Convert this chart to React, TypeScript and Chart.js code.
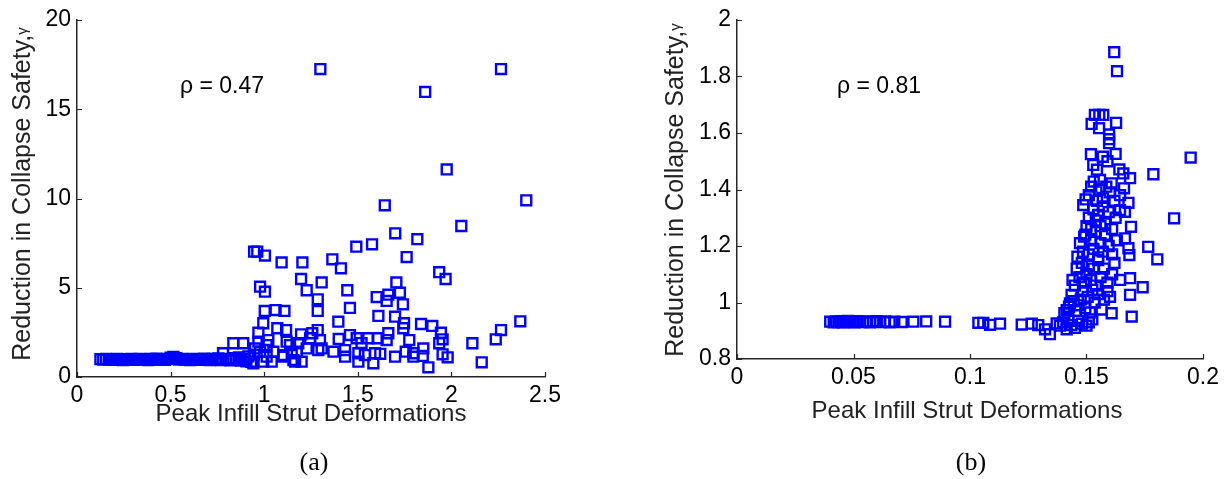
import { useEffect, useRef } from "react";
import { Chart, registerables } from "chart.js";

Chart.register(...registerables);

const SANS = '"Liberation Sans", Arial, Helvetica, sans-serif';
const SERIF = '"Liberation Serif", "Times New Roman", serif';
const MARKER = "#0000ff";
const AXIS = "#262626";

// ---- Panel (a): strut deformation vs. reduction in collapse safety ----
const DEFORM_A = [
  0.125, 0.14, 0.155, 0.17, 0.185, 0.2, 0.215, 0.23, 0.245, 0.26,
  0.275, 0.29, 0.305, 0.32, 0.335, 0.35, 0.365, 0.38, 0.395, 0.41,
  0.425, 0.44, 0.455, 0.47, 0.485, 0.5, 0.515, 0.53, 0.545, 0.56,
  0.575, 0.59, 0.605, 0.62, 0.635, 0.65, 0.665, 0.68, 0.695, 0.71,
  0.725, 0.74, 0.755, 0.77, 0.78, 0.795, 0.81, 0.82, 0.835, 0.835,
  0.85, 0.865, 0.875, 0.888, 0.895, 0.905, 0.915, 0.93, 0.942, 0.951,
  0.945,
  0.946, 0.963, 1.004, 1.093, 1.204, 1.364, 1.41, 1.492, 1.576, 1.644,
  1.7, 1.818, 1.761, 2.053, 1.975, 2.4, 1.3, 2.265, 1.86,
  1.935, 1.969, 1.197, 1.227, 1.307, 0.978, 1.004, 1.444, 1.706, 1.725,
  1.663, 1.601, 1.654, 1.741, 1.286, 1.286, 1.458, 1.003, 1.061, 1.108,
  1.61, 1.699, 1.396, 0.995, 1.747, 1.838, 1.898, 1.07, 1.117, 0.969,
  1.286, 1.257, 1.197, 1.743, 1.944, 1.663, 1.458, 1.398, 1.494, 1.556,
  1.606, 1.654, 1.775, 1.953, 1.935, 0.969, 1.022, 1.12, 1.182, 1.245,
  1.298, 1.227, 1.307, 1.37, 1.432, 1.432, 1.503, 1.503, 1.538, 1.583,
  1.592, 1.699, 1.756, 1.797, 1.847, 1.877, 1.953, 1.102, 1.156, 1.2,
  1.04, 0.978, 1.049, 1.147, 1.289, 1.797, 2.368, 2.265, 2.237, 2.112,
  2.162, 1.013, 1.013, 0.995, 1.102, 1.138, 1.174, 1.165, 1.52, 1.62,
  1.85, 1.98,
];
const GAMMA_A = [
  1.0, 0.98, 1.01, 0.97, 1.0, 0.96, 1.02, 0.98, 0.95, 1.0,
  0.97, 1.01, 0.96, 0.99, 1.02, 0.97, 1.0, 0.95, 1.01, 0.98,
  1.03, 0.97, 1.0, 0.96, 1.02, 1.08, 1.12, 1.05, 0.98, 1.01,
  0.97, 1.0, 0.95, 1.02, 0.98, 1.0, 0.96, 1.03, 0.99, 0.94,
  1.01, 0.97, 1.04, 0.95, 1.33, 0.98, 1.02, 0.93, 1.89, 1.05,
  0.97, 1.1, 0.92, 1.89, 1.02, 0.88, 1.15, 0.85, 0.77, 1.6,
  1.25,
  7.02, 7.02, 6.8, 6.42, 6.42, 6.59, 6.09, 7.3, 7.43, 9.62,
  8.05, 7.72, 6.72, 8.46, 11.63, 9.9, 17.25, 17.25, 15.97,
  5.87, 5.49, 5.49, 4.86, 5.3, 5.06, 4.78, 4.86, 5.3, 4.72,
  4.61, 4.48, 4.26, 4.07, 4.35, 3.7, 3.87, 3.7, 3.75, 3.7,
  3.42, 3.38, 3.1, 3.01, 3.01, 2.97, 2.86, 2.73, 2.63, 2.48,
  2.63, 2.45, 2.39, 2.73, 2.48, 2.45, 2.35, 2.13, 2.17, 2.17,
  2.17, 2.07, 2.07, 2.11, 1.89, 1.98, 2.07, 1.98, 1.89, 2.17,
  2.07, 1.6, 1.6, 1.42, 1.51, 1.14, 1.33, 0.86, 1.23, 0.77,
  1.33, 1.14, 1.42, 1.14, 1.18, 0.54, 1.27, 1.23, 0.95, 0.86,
  0.86, 1.42, 1.42, 1.33, 1.51, 1.33, 3.12, 2.63, 2.11, 1.89,
  0.82, 1.79, 1.14, 0.86, 1.14, 1.79, 1.42, 0.86, 1.9, 1.3,
  1.6, 1.1,
];
const X_TICKS_A = [0, 0.5, 1, 1.5, 2, 2.5];
const Y_TICKS_A = [0, 5, 10, 15, 20];
const RHO_A = "ρ = 0.47";

// ---- Panel (b) ----
const DEFORM_B = [
  0.04, 0.0415, 0.0425, 0.0435, 0.0445, 0.0455, 0.0465, 0.0475, 0.0485, 0.0495,
  0.0505, 0.0515, 0.0525, 0.054, 0.0555, 0.057, 0.0585, 0.06, 0.0615, 0.0635,
  0.0655, 0.0675, 0.0707, 0.0757, 0.0812, 0.0893,
  0.1036, 0.1057, 0.1086, 0.1129, 0.1222, 0.1265, 0.1293, 0.1322, 0.1343, 0.1372,
  0.1386, 0.14, 0.1415, 0.1422, 0.1435, 0.145, 0.1465, 0.148, 0.15, 0.151,
  0.1525,
  0.1405, 0.1415, 0.1425, 0.1429, 0.1436, 0.1445, 0.1455, 0.1465, 0.1475, 0.1485,
  0.1495, 0.1505, 0.1515, 0.1525, 0.1535, 0.155, 0.1565, 0.1575, 0.159, 0.1601,
  0.1608, 0.1687, 0.1694, 0.1741,
  0.144, 0.145, 0.1458, 0.147, 0.148, 0.149, 0.15, 0.151, 0.152, 0.153,
  0.154, 0.155, 0.156, 0.1575, 0.159, 0.161, 0.1644, 0.1687, 0.162,
  0.1461, 0.1472, 0.1485, 0.1495, 0.151, 0.152, 0.153, 0.154, 0.155, 0.156,
  0.157, 0.158, 0.1595, 0.161, 0.163, 0.1665, 0.1684, 0.168, 0.1765, 0.1804,
  0.149, 0.15, 0.151, 0.152, 0.153, 0.154, 0.155, 0.156, 0.157, 0.158,
  0.1595, 0.161, 0.1625, 0.1644, 0.1665, 0.1691, 0.1876, 0.1486,
  0.1496, 0.151, 0.152, 0.1531, 0.1545, 0.1555, 0.1558, 0.157, 0.1585, 0.16,
  0.1608, 0.162, 0.1661, 0.168, 0.1658, 0.1687, 0.1787, 0.1644,
  0.1529, 0.1519, 0.157, 0.1625, 0.1641, 0.1545, 0.159, 0.1947,
  0.1597, 0.1597, 0.1597, 0.1522, 0.1554, 0.1627, 0.1536, 0.1572, 0.1555, 0.1619,
  0.1631,
];
const GAMMA_B = [
  0.932, 0.93, 0.933, 0.931, 0.934, 0.93, 0.932, 0.935, 0.931, 0.933,
  0.93, 0.934, 0.932, 0.931, 0.933, 0.93, 0.932, 0.934, 0.931, 0.933,
  0.93, 0.932, 0.931, 0.932, 0.933, 0.932,
  0.928, 0.928, 0.921, 0.925, 0.922, 0.925, 0.92, 0.905, 0.888, 0.926,
  0.918, 0.93, 0.905, 0.944, 0.92, 0.91, 0.935, 0.925, 0.918, 0.93,
  0.94,
  0.962, 0.973, 0.985, 0.997, 1.027, 1.005, 0.97, 0.99, 1.01, 1.04,
  0.98, 1.02, 0.965, 1.045, 1.0, 1.03, 0.975, 1.01, 1.04, 1.02,
  0.962, 1.027, 0.95, 1.054,
  1.08, 1.06, 1.12, 1.09, 1.14, 1.07, 1.1, 1.13, 1.08, 1.12,
  1.06, 1.15, 1.09, 1.12, 1.07, 1.1, 1.08, 1.086, 1.14,
  1.162, 1.21, 1.18, 1.24, 1.17, 1.22, 1.19, 1.25, 1.16, 1.21,
  1.18, 1.24, 1.2, 1.17, 1.22, 1.227, 1.168, 1.192, 1.197, 1.153,
  1.233, 1.27, 1.3, 1.26, 1.33, 1.29, 1.31, 1.27, 1.34, 1.28,
  1.32, 1.26, 1.3, 1.327, 1.321, 1.268, 1.298, 1.345,
  1.365, 1.38, 1.41, 1.428, 1.36, 1.4, 1.434, 1.37, 1.41, 1.39,
  1.422, 1.36, 1.404, 1.353, 1.457, 1.44, 1.454, 1.38,
  1.487, 1.525, 1.516, 1.526, 1.471, 1.47, 1.5, 1.513,
  1.595, 1.578, 1.564, 1.632, 1.617, 1.636, 1.664, 1.664, 1.664, 1.886,
  1.819,
];
const X_TICKS_B = [0, 0.05, 0.1, 0.15, 0.2];
const Y_TICKS_B = [0.8, 1, 1.2, 1.4, 1.6, 1.8, 2];
const RHO_B = "ρ = 0.81";

const X_TITLE = "Peak Infill Strut Deformations";
const Y_TITLE = "Reduction in Collapse Safety,";
const Y_TITLE_SUB = "γ";

const HEIGHT = 479;

type Panel = {
  xs: number[];
  ys: number[];
  xTicks: number[];
  yTicks: number[];
  rho: string;
  rhoAt: [number, number];
  caption: string;
  canvasLeft: number;
  width: number;
  padding: { left: number; top: number; right: number; bottom: number };
  yAxisWidth: number;
  xAxisHeight: number;
  xTitleX: number;
  xTitleBase: number;
  yTitleBase: number;
  yTitleMid: number;
  captionX: number;
};

const PANELS: Panel[] = [
  {
    xs: DEFORM_A,
    ys: GAMMA_A,
    xTicks: X_TICKS_A,
    yTicks: Y_TICKS_A,
    rho: RHO_A,
    rhoAt: [0.55, 15.9],
    caption: "(a)",
    canvasLeft: 0,
    width: 613,
    padding: { left: 0, top: 20, right: 68, bottom: 62 },
    yAxisWidth: 77,
    xAxisHeight: 40,
    xTitleX: 311,
    xTitleBase: 421,
    yTitleBase: 30,
    yTitleMid: 194,
    captionX: 314,
  },
  {
    xs: DEFORM_B,
    ys: GAMMA_B,
    xTicks: X_TICKS_B,
    yTicks: Y_TICKS_B,
    rho: RHO_B,
    rhoAt: [0.0429, 1.742],
    caption: "(b)",
    canvasLeft: 613,
    width: 614,
    padding: { left: 0, top: 20, right: 24, bottom: 80 },
    yAxisWidth: 124,
    xAxisHeight: 40,
    xTitleX: 354,
    xTitleBase: 418,
    yTitleBase: 70,
    yTitleMid: 190,
    captionX: 358,
  },
];

const fmt = (v: number | string) => String(+Number(v).toFixed(3));

// Inward tick marks, the correlation note, axis titles and the panel caption.
const decorations = {
  id: "decorations",
  afterDraw(chart: any, _args: any, opts: any) {
    const p: Panel = opts.panel;
    const { ctx, chartArea: a } = chart;
    const sx = chart.scales.x;
    const sy = chart.scales.y;
    ctx.save();

    ctx.strokeStyle = AXIS;
    ctx.lineWidth = 1.2;
    ctx.beginPath();
    for (const t of sx.ticks) {
      const px = Math.round(sx.getPixelForValue(t.value)) + 0.5;
      ctx.moveTo(px, a.bottom);
      ctx.lineTo(px, a.bottom - 5);
    }
    for (const t of sy.ticks) {
      const py = Math.round(sy.getPixelForValue(t.value)) + 0.5;
      ctx.moveTo(a.left, py);
      ctx.lineTo(a.left + 5, py);
    }
    ctx.stroke();

    ctx.fillStyle = "#000";
    ctx.textBaseline = "alphabetic";

    ctx.font = `23px ${SANS}`;
    ctx.textAlign = "left";
    ctx.fillText(p.rho, sx.getPixelForValue(p.rhoAt[0]), sy.getPixelForValue(p.rhoAt[1]));

    ctx.fillStyle = "#222";
    ctx.font = `24px ${SANS}`;
    ctx.textAlign = "center";
    ctx.fillText(X_TITLE, p.xTitleX, p.xTitleBase);

    // rotated y title with a small raised gamma
    ctx.save();
    ctx.translate(p.yTitleBase, p.yTitleMid);
    ctx.rotate(-Math.PI / 2);
    ctx.textAlign = "left";
    ctx.font = `25px ${SANS}`;
    const w1 = ctx.measureText(Y_TITLE).width;
    ctx.font = `15px ${SANS}`;
    const w2 = ctx.measureText(Y_TITLE_SUB).width;
    const start = -(w1 + w2) / 2;
    ctx.font = `25px ${SANS}`;
    ctx.fillText(Y_TITLE, start, 0);
    ctx.font = `15px ${SANS}`;
    ctx.fillText(Y_TITLE_SUB, start + w1, -3);
    ctx.restore();

    ctx.fillStyle = "#000";
    ctx.font = `26px ${SERIF}`;
    ctx.textAlign = "center";
    ctx.fillText(p.caption, p.captionX, 470);

    ctx.restore();
  },
};

function makeConfig(p: Panel): any {
  const tickFont = { family: SANS, size: 23 };
  return {
    type: "scatter",
    data: {
      datasets: [
        {
          data: p.xs.map((x, i) => ({ x, y: p.ys[i] })),
          pointStyle: "rect",
          pointRadius: 7,
          pointBorderWidth: 2.4,
          pointBorderColor: MARKER,
          pointBackgroundColor: "rgba(0,0,0,0)",
          showLine: false,
          clip: false,
        },
      ],
    },
    options: {
      responsive: false,
      animation: false,
      devicePixelRatio: 1,
      events: [],
      layout: { padding: p.padding },
      plugins: {
        legend: { display: false },
        tooltip: { enabled: false },
        decorations: { panel: p },
      },
      scales: {
        x: {
          type: "linear",
          min: p.xTicks[0],
          max: p.xTicks[p.xTicks.length - 1],
          grid: { display: false, drawTicks: false },
          border: { display: true, color: AXIS, width: 1.5 },
          ticks: {
            font: tickFont,
            color: "#000",
            padding: 5,
            maxRotation: 0,
            autoSkip: false,
            callback: fmt,
          },
          afterBuildTicks: (s: any) => {
            s.ticks = p.xTicks.map((value) => ({ value }));
          },
          afterFit: (s: any) => {
            s.height = p.xAxisHeight;
            s.paddingLeft = 0;
            s.paddingRight = 0;
          },
        },
        y: {
          type: "linear",
          min: p.yTicks[0],
          max: p.yTicks[p.yTicks.length - 1],
          grid: { display: false, drawTicks: false },
          border: { display: true, color: AXIS, width: 1.5 },
          ticks: {
            font: tickFont,
            color: "#000",
            padding: 6,
            autoSkip: false,
            callback: fmt,
          },
          afterBuildTicks: (s: any) => {
            s.ticks = p.yTicks.map((value) => ({ value }));
          },
          afterFit: (s: any) => {
            s.width = p.yAxisWidth;
            s.paddingTop = 0;
            s.paddingBottom = 0;
          },
        },
      },
    },
    plugins: [decorations],
  };
}

function ScatterPanel({ panel }: { panel: Panel }) {
  const ref = useRef<HTMLCanvasElement | null>(null);
  useEffect(() => {
    if (!ref.current) return;
    const chart = new Chart(ref.current, makeConfig(panel));
    return () => chart.destroy();
  }, [panel]);
  return (
    <canvas
      ref={ref}
      width={panel.width}
      height={HEIGHT}
      style={{
        position: "absolute",
        left: panel.canvasLeft,
        top: 0,
        width: panel.width,
        height: HEIGHT,
        display: "block",
      }}
    />
  );
}

export default function App() {
  return (
    <div
      style={{
        position: "absolute",
        left: 0,
        top: 0,
        width: 1227,
        height: HEIGHT,
        background: "#ffffff",
        overflow: "hidden",
      }}
    >
      {PANELS.map((p) => (
        <ScatterPanel key={p.caption} panel={p} />
      ))}
    </div>
  );
}
